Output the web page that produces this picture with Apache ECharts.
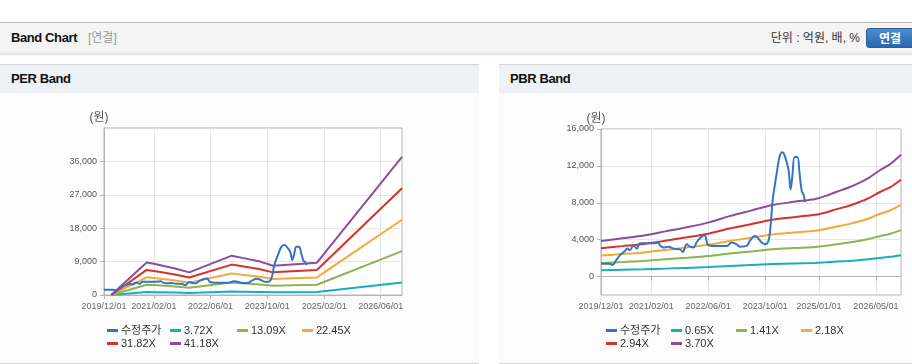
<!DOCTYPE html>
<html>
<head>
<meta charset="utf-8">
<script src="https://cdn.jsdelivr.net/npm/echarts@6/dist/echarts.min.js"></script>
<style>
  html, body { margin: 0; padding: 0; }
  body { width: 912px; height: 364px; overflow: hidden; background: #fff; position: relative;
    font-family: "Liberation Sans", Arial, "Noto Sans CJK KR", sans-serif; }
  .bar { position: absolute; left: 0; top: 22px; width: 912px; height: 30px; background: #f4f4f4;
    border-top: 1px solid #b5b5b5; box-shadow: 0 2px 2px rgba(0,0,0,0.13); }
  .bar .ttl { position: absolute; left: 11px; top: 0; line-height: 30px; font-size: 13px; font-weight: bold;
    color: #111; letter-spacing: -0.4px; }
  .bar .sub { position: absolute; left: 88px; top: 0; line-height: 30px; font-size: 12px; color: #999; }
  .bar .unit { position: absolute; right: 52px; top: 0; line-height: 30px; font-size: 12px; color: #333; }
  .bar .btn { position: absolute; left: 866px; top: 5px; width: 52px; height: 20px; line-height: 20px;
    border-radius: 3px; background: linear-gradient(#4b8bd3, #2c67ae); border: 1px solid #2a5e9e;
    color: #fff; font-size: 12px; font-weight: bold; text-align: center; box-sizing: border-box; padding-right: 4px; }
  .panel { position: absolute; top: 64px; height: 298px; background: #fcfcfc;
    border-top: 1px solid #d6d6d6; border-bottom: 1px solid #d9d9d9; }
  .panel .head { height: 28px; line-height: 28px; background: #eef2f7; padding-left: 11px;
    font-size: 13px; font-weight: bold; color: #111; letter-spacing: -0.4px; }
  .panel .chart { position: absolute; left: 0; top: 28px; right: 0; height: 270px; }
</style>
</head>
<body>
<div class="bar">
  <span class="ttl">Band Chart</span><span class="sub">[연결]</span>
  <span class="unit">단위 : 억원, 배, %</span><span class="btn">연결</span>
</div>
<div class="panel" style="left:0;width:479px"><div class="head">PER Band</div><div class="chart" id="perChart"></div></div>
<div class="panel" style="left:499px;width:413px"><div class="head">PBR Band</div><div class="chart" id="pbrChart"></div></div>
<script>
const FONT = '"Liberation Sans", Arial, "Noto Sans CJK KR", sans-serif'
const COLORS = ['#3474c4', '#19adbf', '#8cb451', '#f5a937', '#d3332c', '#8f4c9c']

// 수정주가 (shared by both charts)
const priceDates = ['2019-12-01', '2020-02-15', '2020-03-07', '2020-04-13', '2020-05-10', '2020-06-22', '2020-07-13',
  '2020-08-04', '2020-09-01', '2020-10-01', '2020-10-28', '2020-12-25', '2021-02-22', '2021-04-01', '2021-04-22',
  '2021-05-19', '2021-06-28', '2021-08-10', '2021-10-04', '2021-10-28', '2021-12-01', '2021-12-28', '2022-01-28',
  '2022-02-24', '2022-04-07', '2022-05-04', '2022-05-28', '2022-07-16', '2022-09-10', '2022-11-07', '2022-12-19',
  '2023-02-01', '2023-02-28', '2023-04-25', '2023-05-22', '2023-07-04', '2023-08-04', '2023-09-01', '2023-09-28',
  '2023-10-28', '2023-11-15', '2023-12-04', '2024-01-07', '2024-02-01', '2024-02-25', '2024-03-16', '2024-04-16',
  '2024-05-04', '2024-05-19', '2024-06-07', '2024-07-01', '2024-07-19', '2024-08-07', '2024-08-22', '2024-09-04']
const priceValues = [1400, 1400, 1260, 1870, 2300, 2780, 3030, 2850, 3390, 3030, 3600, 3600, 3600, 3680, 3320,
  3140, 3240, 3030, 2950, 2670, 3500, 3240, 3140, 3750, 4330, 4470, 3500, 3320, 3320, 3320, 3680,
  3500, 3240, 3320, 3860, 4400, 4110, 3680, 3500, 3860, 5480, 8360, 11240, 13050, 13480, 13050, 11600,
  9440, 10880, 12970, 12970, 11240, 9260, 8900, 8070]

// PER band
const perNames = ['수정주가', '3.72X', '13.09X', '22.45X', '31.82X', '41.18X']
const perBandDates = ['2020-02-01', '2020-12-01', '2021-02-01', '2021-08-01', '2021-12-01', '2022-12-01',
  '2023-03-01', '2023-08-01', '2023-11-20', '2024-05-01', '2024-12-01', '2026-12-01']
const per372 = [0, 790, 760, 650, 550, 960, 900, 810, 710, 750, 790, 3360]
const per1309 = [0, 2780, 2670, 2270, 1940, 3370, 3180, 2860, 2510, 2620, 2770, 11830]
const per2245 = [0, 4770, 4580, 3900, 3330, 5780, 5450, 4910, 4310, 4500, 4740, 20280]
const per3182 = [0, 6760, 6490, 5520, 4710, 8190, 7730, 6950, 6100, 6380, 6720, 28740]
const per4118 = [0, 8750, 8400, 7150, 6100, 10600, 10000, 9000, 7900, 8250, 8700, 37200]
const perXTicks = ['2019-12-01', '2021-02-01', '2022-06-01', '2023-10-01', '2025-02-01', '2026-06-01']
const perYTicks = [0, 9000, 18000, 27000, 36000]

// PBR band
const pbrNames = ['수정주가', '0.65X', '1.41X', '2.18X', '2.94X', '3.70X']
const pbrBandDates = ['2019-12-01', '2020-06-01', '2020-12-01', '2021-06-01', '2021-12-01', '2022-06-01',
  '2022-12-01', '2023-06-01', '2023-12-01', '2024-06-01', '2024-12-01', '2025-03-01', '2025-06-01',
  '2025-09-01', '2025-12-01', '2026-03-01', '2026-06-01', '2026-09-01', '2026-12-01']
const pbr065 = [680, 730, 780, 860, 940, 1030, 1150, 1260, 1360, 1420, 1480, 1540, 1620, 1690, 1770, 1880, 2020, 2140, 2320]
const pbr141 = [1470, 1580, 1700, 1870, 2040, 2230, 2500, 2720, 2950, 3090, 3210, 3330, 3510, 3660, 3850, 4080, 4380, 4650, 5030]
const pbr218 = [2270, 2450, 2620, 2890, 3150, 3450, 3860, 4210, 4570, 4770, 4960, 5160, 5420, 5660, 5950, 6300, 6780, 7190, 7780]
const pbr294 = [3070, 3300, 3540, 3890, 4250, 4650, 5200, 5680, 6160, 6440, 6690, 6950, 7310, 7630, 8030, 8500, 9140, 9690, 10490]
const pbr370 = [3860, 4150, 4450, 4900, 5350, 5850, 6550, 7150, 7750, 8100, 8420, 8750, 9200, 9600, 10100, 10700, 11500, 12200, 13200]
const pbrXTicks = ['2019-12-01', '2021-02-01', '2022-06-01', '2023-10-01', '2025-01-01', '2026-05-01']
const pbrYTicks = [0, 4000, 8000, 12000, 16000]

const ts = d => new Date(d + 'T00:00:00').getTime()
const pairs = (dates, vals) => dates.map((d, k) => [ts(d), vals[k]])

function legendItems (names, cols, rows) {
  return names.map((name, k) => ({
    data: [name],
    left: cols[k % 4],
    top: rows[Math.floor(k / 4)],
    padding: 0,
    icon: 'rect',
    itemWidth: 11,
    itemHeight: 3,
    textStyle: { fontSize: 11, color: '#333', fontFamily: FONT, padding: [0, 0, 0, -2] }
  }))
}

function renderBand (el, cfg) {
  const chart = echarts.init(document.getElementById(el), null, { renderer: 'canvas' })
  const bands = cfg.bands.map((vals, k) => ({
    name: cfg.names[k + 1],
    type: 'line',
    data: pairs(cfg.bandDates, vals),
    symbol: 'none',
    smooth: cfg.smooth,
    lineStyle: { width: 2, color: COLORS[k + 1] },
    itemStyle: { color: COLORS[k + 1] }
  }))
  const price = {
    name: cfg.names[0],
    type: 'line',
    data: pairs(priceDates, priceValues),
    symbol: 'none',
    smooth: 0.35,
    z: 5,
    lineStyle: { width: 2, color: COLORS[0] },
    itemStyle: { color: COLORS[0] }
  }
  const xTicks = cfg.xTicks.map(ts)
  chart.setOption({
    animation: false,
    grid: Object.assign({ show: true, borderColor: '#b4b4b4', borderWidth: 1, backgroundColor: '#fff' }, cfg.grid),
    legend: legendItems(cfg.names, cfg.legendCols, [232, 245]),
    xAxis: {
      type: 'value',
      min: ts('2019-12-01'),
      max: ts('2026-12-01'),
      axisLine: { lineStyle: { color: '#b4b4b4' } },
      axisTick: { show: true, customValues: xTicks, length: 4, lineStyle: { color: '#b4b4b4' } },
      axisLabel: {
        customValues: xTicks,
        formatter: v => echarts.time.format(v, '{yyyy}/{MM}/{dd}', false),
        fontSize: 9, color: '#666', margin: 7, fontFamily: FONT
      },
      splitLine: { show: true, lineStyle: { color: '#e6e6e6' } }
    },
    yAxis: {
      type: 'value',
      min: cfg.yMin,
      max: cfg.yMax,
      name: '(원)',
      nameLocation: 'end',
      nameGap: 4,
      nameTextStyle: { fontSize: 12, color: '#555', fontFamily: FONT, padding: [0, 10, 0, 0] },
      axisLine: { show: true, lineStyle: { color: '#b4b4b4' } },
      axisTick: { show: true, customValues: cfg.yTicks, length: 4, lineStyle: { color: '#b4b4b4' } },
      axisLabel: {
        customValues: cfg.yTicks,
        formatter: v => v.toLocaleString('en-US'),
        fontSize: 9, color: '#555', margin: 7, fontFamily: FONT
      },
      splitLine: { show: true, lineStyle: { color: '#e6e6e6' } }
    },
    series: bands.concat([price])
  })
}

renderBand('perChart', {
  names: perNames,
  bandDates: perBandDates,
  bands: [per372, per1309, per2245, per3182, per4118],
  xTicks: perXTicks,
  yTicks: perYTicks,
  yMin: 0,
  yMax: 45000,
  smooth: false,
  grid: { left: 104, top: 35, width: 298, height: 167 },
  legendCols: [107, 170, 237, 302]
})

renderBand('pbrChart', {
  names: pbrNames,
  bandDates: pbrBandDates,
  bands: [pbr065, pbr141, pbr218, pbr294, pbr370],
  xTicks: pbrXTicks,
  yTicks: pbrYTicks,
  yMin: -2000,
  yMax: 16000,
  smooth: 0.3,
  grid: { left: 102, top: 36, width: 300, height: 166 },
  legendCols: [107, 172, 237, 302]
})
</script>
</body>
</html>
